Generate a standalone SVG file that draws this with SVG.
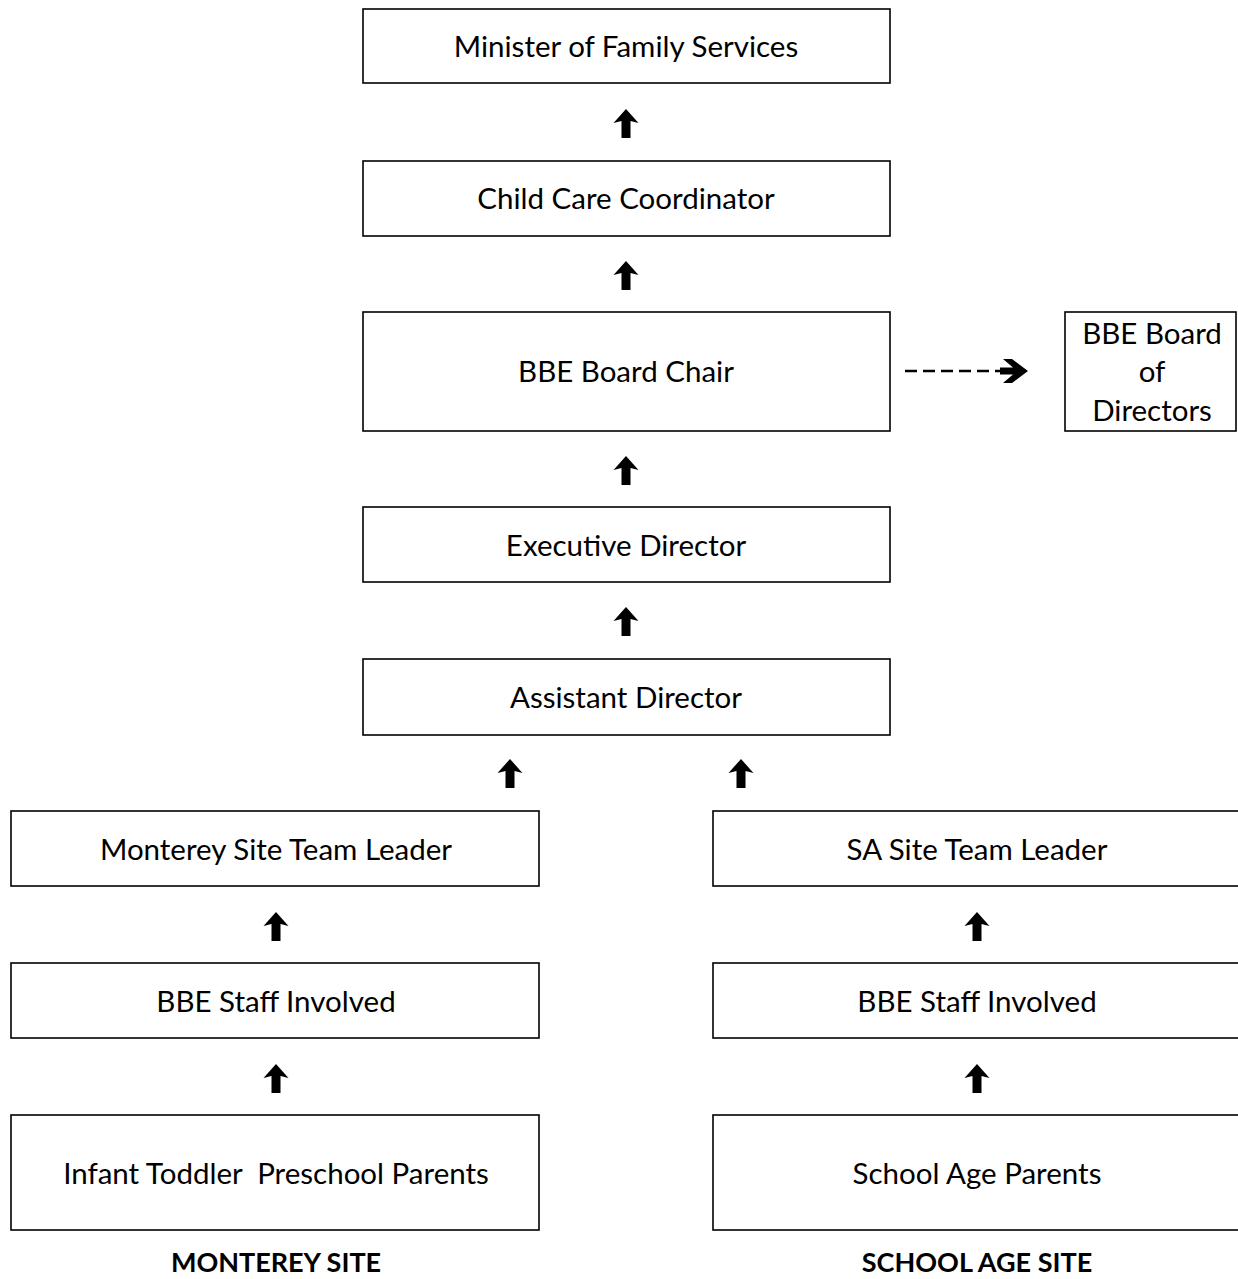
<svg xmlns="http://www.w3.org/2000/svg" width="1238" height="1279" viewBox="0 0 1238 1279">
<defs>
<style>
.box{fill:#fff;stroke:#000;stroke-width:1.6}
.t{font-family:Lato,"Open Sans","Liberation Sans",sans-serif;font-size:29.5px;fill:#000;text-anchor:middle}
.b{font-family:Lato,"Open Sans","Liberation Sans",sans-serif;font-size:27px;font-weight:bold;fill:#000;text-anchor:middle}
.arr{fill:#000}
</style>
<path id="up" d="M0,-16 L12.5,-2 L4.5,-4 L4.5,13 L-4.5,13 L-4.5,-4 L-12.5,-2 Z"/>
</defs>
<rect width="1238" height="1279" fill="#fff"/>
<g id="n-minister"><rect class="box" x="363" y="9" width="527" height="74"/><text class="t" x="626" y="57">Minister of Family Services</text></g>
<g id="n-coordinator"><rect class="box" x="363" y="161" width="527" height="75"/><text class="t" x="626" y="209">Child Care Coordinator</text></g>
<g id="n-chair"><rect class="box" x="363" y="312" width="527" height="119"/><text class="t" x="626" y="382">BBE Board Chair</text></g>
<g id="n-board"><rect class="box" x="1065" y="312" width="171" height="119"/><text class="t" x="1152" y="344">BBE Board</text><text class="t" x="1152" y="382">of</text><text class="t" x="1152" y="421">Directors</text></g>
<g id="n-exec"><rect class="box" x="363" y="507" width="527" height="75"/><text class="t" x="626" y="556">Executive Director</text></g>
<g id="n-assistant"><rect class="box" x="363" y="659" width="527" height="76"/><text class="t" x="626" y="708">Assistant Director</text></g>
<g id="n-monterey-lead"><rect class="box" x="11" y="811" width="528" height="75"/><text class="t" x="276" y="860">Monterey Site Team Leader</text></g>
<g id="n-sa-lead"><rect class="box" x="713" y="811" width="540" height="75"/><text class="t" x="977" y="860">SA Site Team Leader</text></g>
<g id="n-monterey-staff"><rect class="box" x="11" y="963" width="528" height="75"/><text class="t" x="276" y="1012">BBE Staff Involved</text></g>
<g id="n-sa-staff"><rect class="box" x="713" y="963" width="540" height="75"/><text class="t" x="977" y="1012">BBE Staff Involved</text></g>
<g id="n-monterey-parents"><rect class="box" x="11" y="1115" width="528" height="115"/><text class="t" x="276" y="1184" xml:space="preserve">Infant Toddler  Preschool Parents</text></g>
<g id="n-sa-parents"><rect class="box" x="713" y="1115" width="540" height="115"/><text class="t" x="977" y="1184">School Age Parents</text></g>
<g id="labels"><text class="b" x="276" y="1272">MONTEREY SITE</text><text class="b" x="977" y="1272">SCHOOL AGE SITE</text></g>
<g id="connectors">
<use href="#up" class="arr" x="626" y="125"/>
<use href="#up" class="arr" x="626" y="277"/>
<use href="#up" class="arr" x="626" y="472"/>
<use href="#up" class="arr" x="626" y="623"/>
<use href="#up" class="arr" x="510" y="775"/>
<use href="#up" class="arr" x="741" y="775"/>
<use href="#up" class="arr" x="276" y="928"/>
<use href="#up" class="arr" x="977" y="928"/>
<use href="#up" class="arr" x="276" y="1080"/>
<use href="#up" class="arr" x="977" y="1080"/>
<line x1="905" y1="371" x2="1002" y2="371" stroke="#000" stroke-width="2.6" stroke-dasharray="12,6"/>
<path d="M1003,359 L1012,359 L1028,371 L1012,383 L1003,383 L1013,374.5 L1000,374.5 L1000,367.5 L1013,367.5 Z" fill="#000"/>
</g>
</svg>
